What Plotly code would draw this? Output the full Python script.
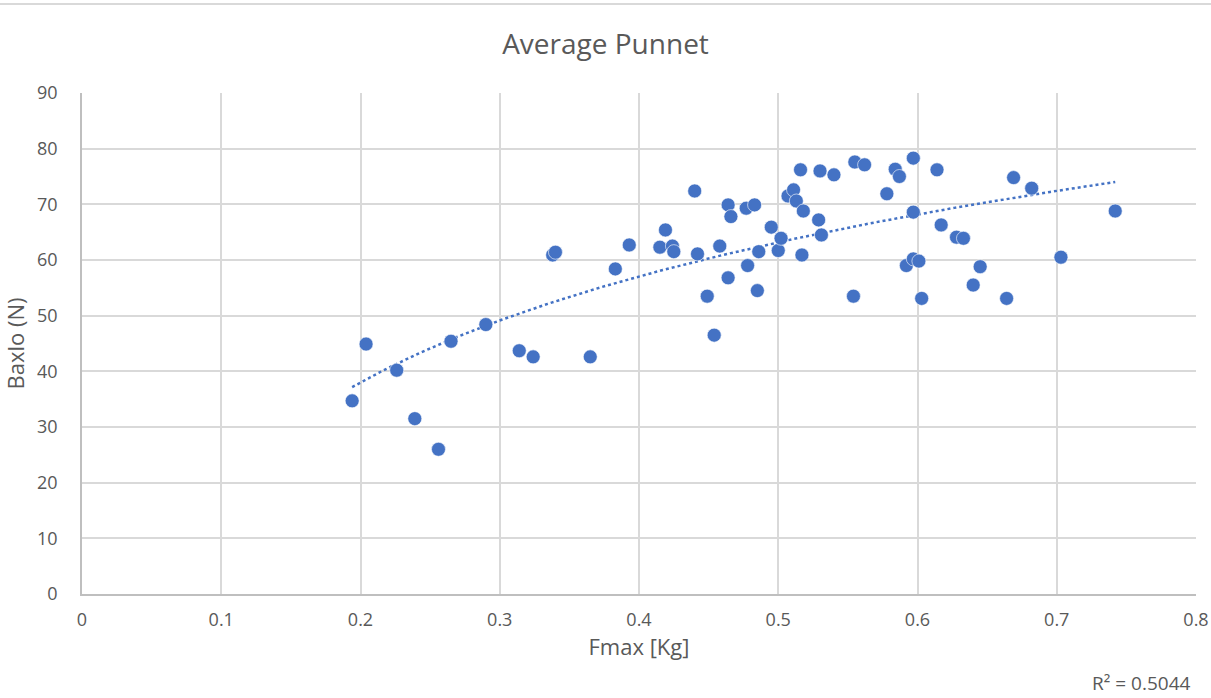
import numpy as np
import plotly.graph_objects as go

# Fmax [Kg] vs Baxlo (N), averaged per punnet
fmax = [0.194, 0.204, 0.226, 0.239, 0.256, 0.265, 0.290, 0.314, 0.324, 0.338,
        0.340, 0.365, 0.383, 0.393, 0.415, 0.419, 0.424, 0.425, 0.440, 0.442,
        0.449, 0.454, 0.458, 0.464, 0.464, 0.466, 0.477, 0.478, 0.483, 0.485,
        0.486, 0.495, 0.500, 0.502, 0.507, 0.511, 0.513, 0.516, 0.517, 0.518,
        0.529, 0.530, 0.531, 0.540, 0.554, 0.555, 0.562, 0.578, 0.584, 0.587,
        0.592, 0.597, 0.597, 0.597, 0.601, 0.603, 0.614, 0.617, 0.628, 0.633,
        0.640, 0.645, 0.664, 0.669, 0.682, 0.703, 0.742]
baxlo = [34.7, 44.9, 40.2, 31.5, 26.0, 45.4, 48.4, 43.7, 42.6, 60.9,
         61.4, 42.6, 58.4, 62.7, 62.3, 65.4, 62.5, 61.5, 72.4, 61.1,
         53.5, 46.5, 62.5, 56.8, 69.9, 67.8, 69.3, 59.0, 69.9, 54.5,
         61.5, 65.9, 61.7, 63.9, 71.5, 72.6, 70.6, 76.2, 60.9, 68.8,
         67.2, 76.0, 64.5, 75.3, 53.5, 77.6, 77.1, 71.9, 76.3, 75.0,
         59.0, 78.3, 60.2, 68.6, 59.8, 53.1, 76.2, 66.3, 64.1, 63.9,
         55.5, 58.8, 53.1, 74.8, 72.9, 60.5, 68.8]
x_ticks = [0, 0.1, 0.2, 0.3, 0.4, 0.5, 0.6, 0.7, 0.8]
x_tick_text = ["0", "0.1", "0.2", "0.3", "0.4", "0.5", "0.6", "0.7", "0.8"]
y_ticks = [0, 10, 20, 30, 40, 50, 60, 70, 80, 90]
r2_text = "R² = 0.5044"

# Logarithmic trendline fitted to the points
xa = np.array(fmax)
ya = np.array(baxlo)
a, b = np.polyfit(np.log(xa), ya, 1)
tx = np.linspace(xa.min(), xa.max(), 200)
ty = a * np.log(tx) + b

BLUE = "#4472C4"
GREY_TXT = "#595959"
GRID = "#d9d9d9"
FONT = "Open Sans, Liberation Sans, sans-serif"

W, H = 1211, 698
ML, MR, MT, MB = 82, 15, 93, 104
PW, PH = W - ML - MR, H - MT - MB

fig = go.Figure()
fig.add_trace(go.Scatter(
    x=tx, y=ty, mode="lines",
    line=dict(color=BLUE, width=2.5, dash="dot"),
    hoverinfo="skip", showlegend=False,
))
fig.add_trace(go.Scatter(
    x=fmax, y=baxlo, mode="markers",
    marker=dict(color=BLUE, size=14, line=dict(color="#ffffff", width=0.6)),
    showlegend=False,
))

fig.update_layout(
    width=W, height=H,
    margin=dict(l=ML, r=MR, t=MT, b=MB),
    paper_bgcolor="white", plot_bgcolor="white",
    font=dict(family=FONT, color=GREY_TXT, size=18),
    title=dict(text="Average Punnet", x=0.5, xanchor="center",
               y=1 - 44 / H, yanchor="middle",
               font=dict(size=28, color=GREY_TXT, family=FONT)),
    xaxis=dict(
        range=[0, 0.8], tickvals=x_ticks, ticktext=x_tick_text,
        showgrid=True, gridcolor=GRID, gridwidth=1.5,
        showline=True, linecolor="#bfbfbf", linewidth=1.5,
        zeroline=False, ticks="", ticklabelstandoff=9, automargin=False,
        tickfont=dict(size=18, color=GREY_TXT),
        title=dict(text="Fmax [Kg]", standoff=8,
                   font=dict(size=22, color=GREY_TXT)),
    ),
    yaxis=dict(
        range=[0, 90], tickvals=y_ticks,
        showgrid=True, gridcolor=GRID, gridwidth=1.5,
        showline=True, linecolor="#bfbfbf", linewidth=1.5,
        zeroline=False, ticks="", ticklabelstandoff=19, automargin=False,
        tickfont=dict(size=18, color=GREY_TXT),
        title=dict(text="Baxlo (N)", standoff=6,
                   font=dict(size=22, color=GREY_TXT)),
    ),
    shapes=[dict(type="line", xref="paper", yref="paper",
                 x0=-ML / PW, x1=1 + MR / PW,
                 y0=(PH + MT - 4) / PH, y1=(PH + MT - 4) / PH,
                 line=dict(color=GRID, width=2))],
    annotations=[dict(text=r2_text, xref="paper", yref="paper",
                      x=(1141 - ML) / PW, y=-(683 - (MT + PH)) / PH,
                      xanchor="center", yanchor="middle", showarrow=False,
                      font=dict(size=19, color=GREY_TXT, family=FONT))],
)

fig.write_html("out.html")
